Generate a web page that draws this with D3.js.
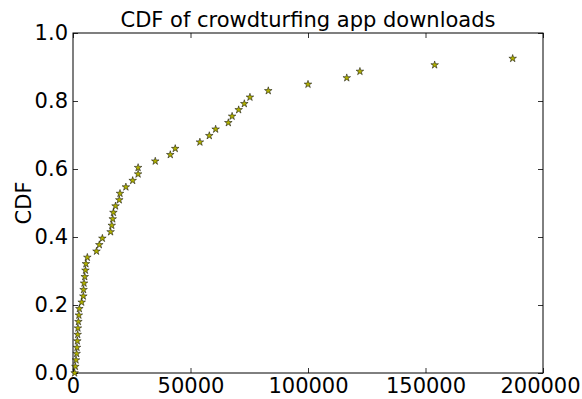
<!DOCTYPE html>
<html>
<head>
<meta charset="utf-8">
<script src="https://cdn.jsdelivr.net/npm/d3@7"></script>
<style>
  body { margin: 0; background: #fff; }
  text { font-family: "DejaVu Sans", sans-serif; fill: #000; }
</style>
</head>
<body>
<svg id="chart" width="582" height="399"></svg>
<script>
// downloads per app (sorted) and its CDF value
const downloads = [700, 1000, 1300, 1550, 1700, 1850, 2000, 2100, 2300, 2500,
    2700, 3700, 4400, 4500, 4700, 5000, 5300, 5500, 6100, 10000,
    11200, 12500, 16000, 16500, 16900, 17200, 18100, 19700, 20000, 22500,
    25400, 27700, 27700, 35000, 41400, 43500, 54000, 58000, 60700, 66100,
    67700, 70500, 72900, 75300, 83100, 100000, 116500, 122100, 153900, 187100];
const cdf = [0.0, 0.019, 0.038, 0.057, 0.075, 0.094, 0.113, 0.132, 0.151, 0.170,
    0.189, 0.208, 0.226, 0.245, 0.264, 0.283, 0.302, 0.321, 0.340, 0.358,
    0.377, 0.396, 0.415, 0.434, 0.453, 0.472, 0.491, 0.509, 0.528, 0.547,
    0.566, 0.585, 0.604, 0.623, 0.642, 0.660, 0.679, 0.698, 0.717, 0.736,
    0.755, 0.774, 0.792, 0.811, 0.830, 0.849, 0.868, 0.887, 0.906, 0.925];
const xTicks = [0, 50000, 100000, 150000, 200000];
const yTicks = [0.0, 0.2, 0.4, 0.6, 0.8, 1.0];

const svg = d3.select("#chart");
const mLeft = 73, mRight = 543, mTop = 33, mBottom = 373;
const fs = 21;

const x = d3.scaleLinear().domain([0, 200000]).range([mLeft, mRight]);
const y = d3.scaleLinear().domain([0, 1]).range([mBottom, mTop]);

// ticks pointing inward on all sides
const tl = 5;
const axB = svg.append("g").attr("transform", `translate(0,${mBottom})`)
    .call(d3.axisBottom(x).tickValues(xTicks).tickFormat(d3.format("d")).tickSizeInner(-tl).tickSizeOuter(0).tickPadding(5));
const axT = svg.append("g").attr("transform", `translate(0,${mTop})`)
    .call(d3.axisTop(x).tickValues(xTicks).tickFormat("").tickSizeInner(-tl).tickSizeOuter(0));
const axL = svg.append("g").attr("transform", `translate(${mLeft},0)`)
    .call(d3.axisLeft(y).tickValues(yTicks).tickFormat(d3.format(".1f")).tickSizeInner(-tl).tickSizeOuter(0).tickPadding(5));
const axR = svg.append("g").attr("transform", `translate(${mRight},0)`)
    .call(d3.axisRight(y).tickValues(yTicks).tickFormat("").tickSizeInner(-tl).tickSizeOuter(0));

[axB, axT, axL, axR].forEach(g => {
    g.select(".domain").remove();
    g.selectAll("line").attr("stroke", "#000").attr("stroke-width", 0.8);
    g.selectAll("text").attr("font-size", fs).attr("font-family", "DejaVu Sans").attr("fill", "#000");
});
axB.selectAll("text").attr("dy", "0.71em");
// keep the last label inside the page
axB.selectAll("text").filter(d => d === 200000).attr("dx", -3);

// frame
svg.append("rect")
    .attr("x", mLeft).attr("y", mTop)
    .attr("width", mRight - mLeft).attr("height", mBottom - mTop)
    .attr("fill", "none").attr("stroke", "#000").attr("stroke-width", 1);

// star markers
const star = d3.symbol().type(d3.symbolStar).size(18);
svg.append("g").selectAll("path")
    .data(downloads)
    .enter()
    .append("path")
    .attr("d", star)
    .attr("transform", (d, i) => `translate(${x(d)},${y(cdf[i])})`)
    .attr("fill", "#b0b000")
    .attr("stroke", "#000")
    .attr("stroke-width", 0.5);

// title and label
svg.append("text")
    .attr("x", (mLeft + mRight) / 2).attr("y", 27)
    .attr("text-anchor", "middle").attr("font-size", fs)
    .text("CDF of crowdturfing app downloads");

svg.append("text")
    .attr("transform", `translate(31,${(mTop + mBottom) / 2}) rotate(-90)`)
    .attr("text-anchor", "middle").attr("font-size", fs)
    .text("CDF");
</script>
</body>
</html>
